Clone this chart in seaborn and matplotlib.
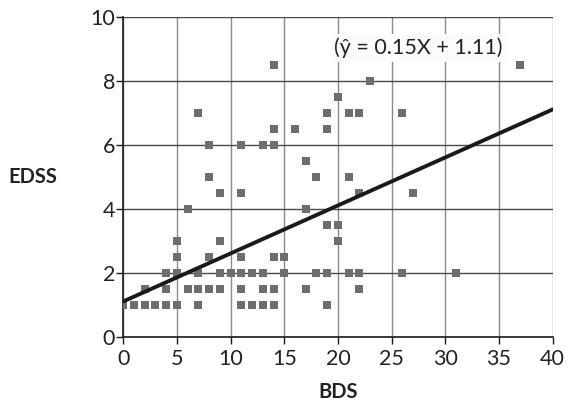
import matplotlib
matplotlib.use("Agg")
import matplotlib.pyplot as plt
import numpy as np
import pandas as pd
import seaborn as sns

# points (BDS score, EDSS score)
bds = [0, 1, 2, 3, 4, 5, 7, 11, 12, 13, 14, 19,
       2, 4, 6, 7, 8, 9, 11, 13, 14, 17, 22,
       4, 5, 7, 9, 10, 11, 12, 13, 15, 18, 19, 21, 22, 26, 31,
       5, 8, 11, 14, 15,
       5, 9, 20,
       19, 20,
       6, 17,
       9, 11, 22, 27,
       8, 18, 21,
       17,
       8, 11, 13, 14,
       14, 16, 19,
       7, 19, 21, 22, 26,
       20,
       23,
       14, 37]
edss = [1] * 12 + [1.5] * 11 + [2] * 15 + [2.5] * 5 + [3] * 3 + [3.5] * 2 + \
       [4] * 2 + [4.5] * 4 + [5] * 3 + [5.5] * 1 + [6] * 4 + [6.5] * 3 + \
       [7] * 5 + [7.5] * 1 + [8] * 1 + [8.5] * 2

# regression line from the equation printed on the chart
slope = 0.15
intercept = 1.11
equation = "(ŷ = 0.15X + 1.11)"

df = pd.DataFrame({"BDS": bds, "EDSS": edss})

sns.set_theme(style="white")
plt.rcParams["font.family"] = ["Lato", "DejaVu Sans"]

fig = plt.figure(figsize=(5.68, 4.04), dpi=100)
ax = fig.add_axes([0.217, 0.166, 0.756, 0.792])

sns.scatterplot(data=df, x="BDS", y="EDSS", marker="s", s=28,
                color="#6e6e6e", linewidth=0, ax=ax, zorder=3)

xs = np.array([0, 40])
ax.plot(xs, slope * xs + intercept, color="#1a1a1a", lw=2.8, zorder=4)

ax.set_xlim(0, 40)
ax.set_ylim(0, 10)
ax.set_xticks(range(0, 41, 5))
ax.set_yticks(range(0, 11, 2))

ax.xaxis.grid(True, color="#8a8a8a", lw=1.0)
ax.yaxis.grid(True, color="#4a4a4a", lw=1.0)
ax.set_axisbelow(True)

for side in ["top", "right"]:
    ax.spines[side].set_visible(False)
for side in ["left", "bottom"]:
    ax.spines[side].set_color("#1a1a1a")
    ax.spines[side].set_linewidth(1.2)

ax.tick_params(axis="both", which="major", length=5, width=1, color="#1a1a1a",
               labelsize=15.5, labelcolor="#222222")
ax.tick_params(axis="y", pad=1)
ax.tick_params(axis="x", pad=4)
ax.tick_params(left=True, bottom=True)

ax.set_xlabel("BDS", fontsize=14.5, fontweight="bold", color="#222222",
              va="center")
ax.set_ylabel("EDSS", fontsize=14.5, fontweight="bold", color="#222222",
              rotation=0, ha="center", va="center")
ax.xaxis.set_label_coords(0.501, -0.172)
ax.yaxis.set_label_coords(-0.211, 0.5)

ax.text(27.5, 9.03, equation, fontsize=15.5, color="#222222", ha="center",
        va="center", zorder=5,
        bbox=dict(facecolor="#fbfbfb", edgecolor="none", pad=3))

fig.savefig("out.png", dpi=100)
